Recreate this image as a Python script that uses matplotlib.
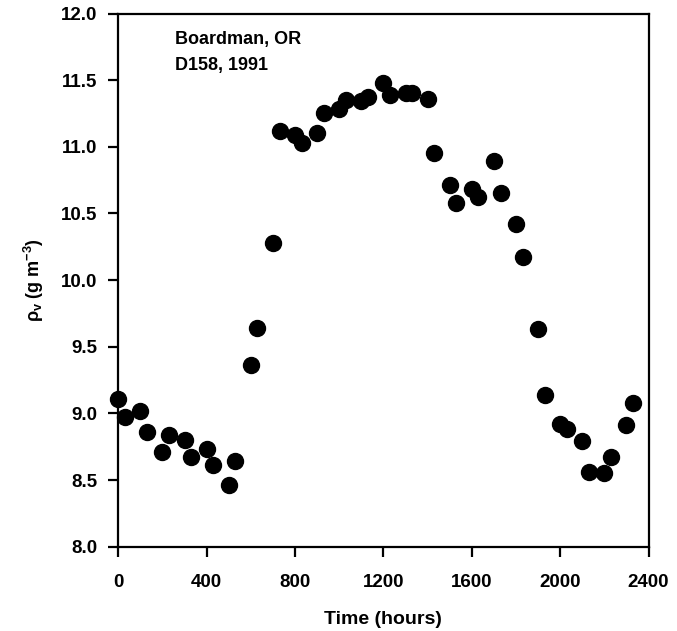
import matplotlib
matplotlib.use("Agg")
import matplotlib.pyplot as plt

plt.rcParams['font.family'] = ['Liberation Sans', 'DejaVu Sans']
plt.rcParams['font.weight'] = 'bold'
plt.rcParams['mathtext.fontset'] = 'custom'
plt.rcParams['mathtext.rm'] = 'Liberation Sans:bold'
plt.rcParams['mathtext.default'] = 'rm'

# time of day (hhmm) and vapour density
times = [0, 30, 100, 130, 200, 230, 300, 330, 400, 430, 500, 530,
         600, 630, 700, 730, 800, 830, 900, 930, 1000, 1030, 1100, 1130,
         1200, 1230, 1300, 1330, 1400, 1430, 1500, 1530, 1600, 1630, 1700, 1730,
         1800, 1830, 1900, 1930, 2000, 2030, 2100, 2130, 2200, 2230, 2300, 2330]
rho_v = [9.11, 8.97, 9.02, 8.86, 8.71, 8.84, 8.80, 8.67, 8.73, 8.61, 8.46, 8.64,
         9.36, 9.64, 10.28, 11.12, 11.09, 11.03, 11.10, 11.25, 11.28, 11.35, 11.34, 11.37,
         11.48, 11.39, 11.40, 11.40, 11.36, 10.95, 10.71, 10.58, 10.68, 10.62, 10.89, 10.65,
         10.42, 10.17, 9.63, 9.14, 8.92, 8.88, 8.79, 8.56, 8.55, 8.67, 8.91, 9.08]

x_ticks = [0, 400, 800, 1200, 1600, 2000, 2400]
y_ticks = [8.0, 8.5, 9.0, 9.5, 10.0, 10.5, 11.0, 11.5, 12.0]

fig = plt.figure(figsize=(6.77, 6.31), dpi=100)
ax = fig.add_axes([0.1747, 0.1336, 0.7833, 0.845])

ax.plot(times, rho_v, 'o', color='black', markersize=11.5, clip_on=False)

ax.set_xlim(0, 2400)
ax.set_ylim(8.0, 12.0)
ax.set_xticks(x_ticks)
ax.set_yticks(y_ticks)
ax.set_yticklabels(["%.1f" % v for v in y_ticks])

for sp in ax.spines.values():
    sp.set_linewidth(1.6)
ax.tick_params(direction='out', length=7, width=1.6, labelsize=13.5)
ax.tick_params(axis='x', pad=13)
ax.tick_params(axis='y', pad=8)

ax.set_xlabel('Time (hours)', fontsize=14, fontweight='bold', labelpad=14)
ax.set_ylabel(r'$\rho_\mathrm{v}$ (g m$^{-3}$)', fontsize=13, fontweight='bold', labelpad=11)

ax.text(0.107, 0.968, 'Boardman, OR\nD158, 1991', transform=ax.transAxes,
        fontsize=13, fontweight='bold', va='top', ha='left', linespacing=1.75)

fig.savefig('out.png', dpi=100)
